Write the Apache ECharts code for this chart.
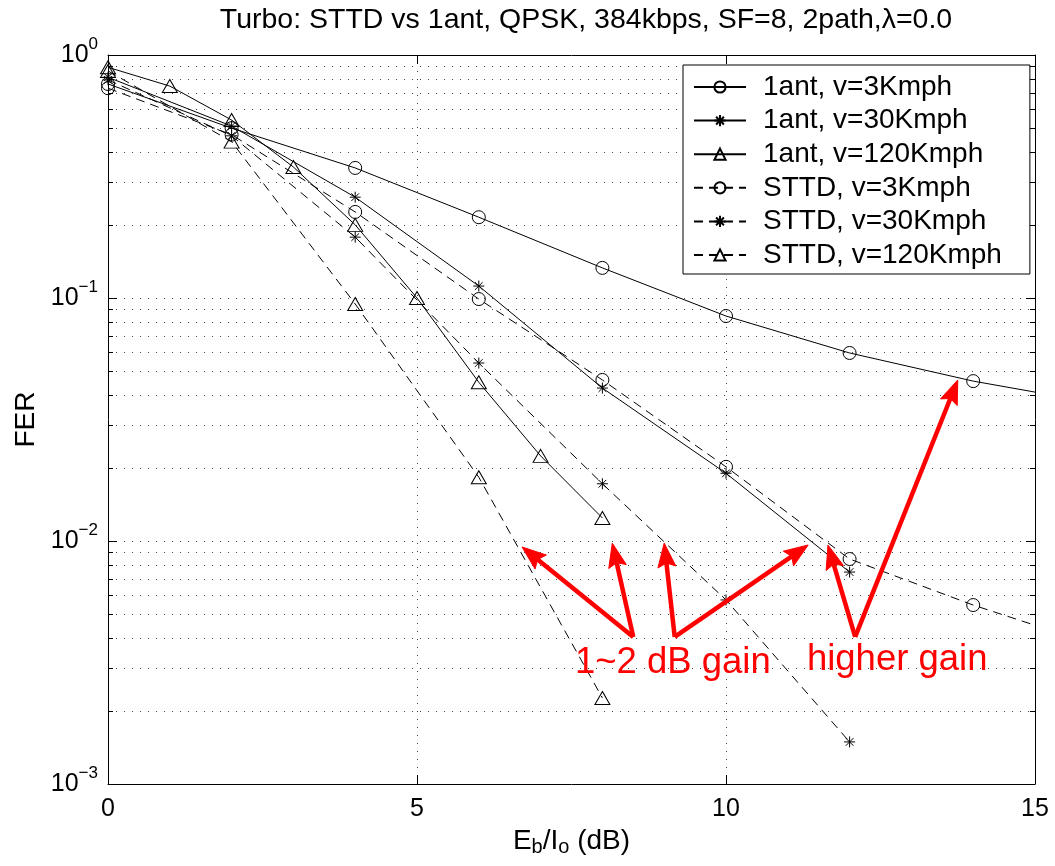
<!DOCTYPE html>
<html><head><meta charset="utf-8">
<script src="https://cdn.jsdelivr.net/npm/echarts@6/dist/echarts.min.js"></script>
<style>html,body{margin:0;padding:0;background:#fff}#c{width:1055px;height:866px}</style>
</head><body><div id="c"></div>
<script>
const FONT = "'Liberation Sans', Arial, Helvetica, sans-serif";

// ---- axes ----
const xMin = 0, xMax = 15, xInterval = 5;
const yMin = 0.001, yMax = 1;
const minorTicks = [0.002,0.003,0.004,0.005,0.006,0.007,0.008,0.009,
                    0.02,0.03,0.04,0.05,0.06,0.07,0.08,0.09,
                    0.2,0.3,0.4,0.5,0.6,0.7,0.8,0.9];

// ---- data (Eb/Io in dB, FER) ----
const names = ['1ant, v=3Kmph','1ant, v=30Kmph','1ant, v=120Kmph','STTD, v=3Kmph','STTD, v=30Kmph','STTD, v=120Kmph'];
const x_1ant_3   = [0,2,4,6,8,10,12,14,15];
const fer_1ant_3 = [0.76,0.50,0.343,0.215,0.133,0.0843,0.0594,0.0455,0.041];
const x_1ant_30   = [0,2,4,6,8,10,12];
const fer_1ant_30 = [0.81,0.51,0.26,0.112,0.0426,0.019,0.00745];
const x_1ant_120   = [0,1,2,3,4,5,6,7,8];
const fer_1ant_120 = [0.89,0.745,0.54,0.346,0.2,0.1,0.045,0.0224,0.01244];
const x_sttd_3   = [0,2,4,6,8,10,12,14,15];
const fer_sttd_3 = [0.73,0.47,0.226,0.099,0.046,0.0202,0.00843,0.00545,0.0045];
const x_sttd_30   = [0,2,4,6,8,10,12];
const fer_sttd_30 = [0.79,0.465,0.178,0.054,0.0172,0.00572,0.00149];
const x_sttd_120   = [0,2,4,6,8];
const fer_sttd_120 = [0.86,0.44,0.0945,0.0183,0.00226];

// ---- annotations (data coords) ----
const arrowTails = [[8.5,0.00403],[8.5,0.00403],[9.17,0.00403],[9.17,0.00403],[12.09,0.00403],[12.09,0.00403]];
const arrowHeads = [[6.7,0.00945],[8.16,0.0098],[9.0,0.0098],[11.33,0.00963],[11.65,0.00963],[13.75,0.046]];
const noteTexts = ['1~2 dB gain','higher gain'];
const notePos = [[9.14,0.00315],[12.77,0.00324]];

const STAR = 'path://M10 0L10 20M0 10L20 10M3 3L17 17M3 17L17 3';

function pts(xs, ys){
  return xs.map((x,i)=> x === xMax ? {value:[x,ys[i]], symbol:'none'} : [x,ys[i]]);
}
function mk(name, xs, ys, symbol, size, dashed){
  return {
    name, type:'line', data: pts(xs,ys), symbol, symbolSize: size, z: 5,
    color:'#000',
    lineStyle:{color:'#000', width:1, type: dashed ? [9,6] : 'solid'},
    itemStyle:{color:'rgba(0,0,0,0)', borderColor:'#000', borderWidth:1},
    emphasis:{disabled:true}, silent:true
  };
}

const chart = echarts.init(document.getElementById('c'), null, {renderer:'canvas'});
const dotted = {color:'#444', width:1, type:[1,7]};
const supFmt = v => {
  const e = Math.round(Math.log10(v));
  return '{b|10}{s|' + (e < 0 ? '\u2212' + (-e) : e) + '}';
};
const richY = {
  b:{fontSize:25, fontFamily:FONT, color:'#000'},
  s:{fontSize:17, fontFamily:FONT, color:'#000', padding:[0,0,22,0]}
};

chart.setOption({
  animation:false,
  backgroundColor:'#fff',
  textStyle:{fontFamily:FONT},
  grid:{left:108, right:20, top:55, bottom:82, containLabel:false},
  xAxis:[{
    type:'value', min:xMin, max:xMax, interval:xInterval, position:'bottom',
    axisLine:{show:true, onZero:false, lineStyle:{color:'#000', width:1}},
    axisTick:{show:true, inside:true, length:9, lineStyle:{color:'#000'}},
    axisLabel:{fontSize:25, color:'#000', margin:13, fontFamily:FONT},
    splitLine:{show:true, lineStyle:dotted},
    name:'{n|E}{sub|b}{n|/I}{sub|o}{n| (dB)}', nameLocation:'middle', nameGap:34,
    nameTextStyle:{rich:{
      n:{fontSize:28, fontFamily:FONT, color:'#000'},
      sub:{fontSize:20, fontFamily:FONT, color:'#000', padding:[14,0,0,0]}
    }}
  },{
    type:'value', min:xMin, max:xMax, interval:xInterval, position:'top',
    axisLine:{show:true, onZero:false, lineStyle:{color:'#000', width:1}},
    axisTick:{show:true, inside:true, length:9, lineStyle:{color:'#000'}},
    axisLabel:{show:false}, splitLine:{show:false}
  }],
  yAxis:[{
    type:'log', logBase:10, min:yMin, max:yMax, position:'left',
    axisLine:{show:true, onZero:false, lineStyle:{color:'#000', width:1}},
    axisTick:{show:true, inside:true, length:9, lineStyle:{color:'#000'}},
    axisLabel:{formatter:supFmt, rich:richY, margin:10},
    splitLine:{show:true, lineStyle:dotted},
    name:'FER', nameLocation:'middle', nameGap:64,
    nameTextStyle:{fontSize:28, color:'#000', fontFamily:FONT}
  },{
    type:'log', logBase:10, min:yMin, max:yMax, position:'right',
    axisLine:{show:true, onZero:false, lineStyle:{color:'#000', width:1}},
    axisTick:{show:true, inside:true, length:9, lineStyle:{color:'#000'}},
    axisLabel:{show:false}, splitLine:{show:false}
  }],
  legend:{
    data:names, orient:'vertical', left:683, top:65,
    padding:[8,28,5,10], itemGap:5.6, itemWidth:52, itemHeight:14,
    backgroundColor:'#fff', borderColor:'#000', borderWidth:1, borderRadius:0,
    textStyle:{fontSize:28, color:'#000', fontFamily:FONT, lineHeight:28, padding:[0,0,0,12]},
    selectedMode:false
  },
  series:[
    {
      type:'custom', name:'minorGrid', z:1, silent:true,
      data: minorTicks.map(v=>[xMin, v]),
      encode:{x:0, y:1},
      renderItem:(params, api)=>{
        const v = api.value(1);
        const a = api.coord([xMin, v]), b = api.coord([xMax, v]);
        const y = Math.round(a[1]) + 0.5;
        return {type:'group', children:[
          {type:'line', shape:{x1:a[0], y1:y, x2:b[0], y2:y}, style:{stroke:'#444', lineWidth:1, lineDash:[1,7]}},
          {type:'line', shape:{x1:a[0], y1:y, x2:a[0]+5, y2:y}, style:{stroke:'#000', lineWidth:1}},
          {type:'line', shape:{x1:b[0]-5, y1:y, x2:b[0], y2:y}, style:{stroke:'#000', lineWidth:1}}
        ]};
      }
    },
    mk(names[0], x_1ant_3, fer_1ant_3, 'circle', 13, false),
    mk(names[1], x_1ant_30, fer_1ant_30, STAR, 11, false),
    mk(names[2], x_1ant_120, fer_1ant_120, 'triangle', [15,13], false),
    mk(names[3], x_sttd_3, fer_sttd_3, 'circle', 13, true),
    mk(names[4], x_sttd_30, fer_sttd_30, STAR, 11, true),
    mk(names[5], x_sttd_120, fer_sttd_120, 'triangle', [15,13], true)
  ]
});

const RED = '#ff0000';
const gfx = [{
  type:'text', x:586, y:20,
  style:{text:'Turbo: STTD vs 1ant, QPSK, 384kbps, SF=8, 2path,\u03bb=0.0', font:'28.5px '+FONT, fill:'#000', textAlign:'center', textVerticalAlign:'middle'}
}];
const HEAD_LEN = 24, HEAD_HALF = 9, NOTCH = 4;
arrowTails.forEach((t,i)=>{
  const p0 = chart.convertToPixel({xAxisIndex:0, yAxisIndex:0}, t);
  const p1 = chart.convertToPixel({xAxisIndex:0, yAxisIndex:0}, arrowHeads[i]);
  const dx = p1[0]-p0[0], dy = p1[1]-p0[1], L = Math.hypot(dx,dy);
  const ux = dx/L, uy = dy/L, nx = -uy, ny = ux;
  const bx = p1[0]-ux*HEAD_LEN, by = p1[1]-uy*HEAD_LEN;
  const mx = p1[0]-ux*(HEAD_LEN-NOTCH), my = p1[1]-uy*(HEAD_LEN-NOTCH);
  gfx.push({type:'line', z:20, shape:{x1:p0[0], y1:p0[1], x2:mx, y2:my},
    style:{stroke:RED, lineWidth:4.5, lineCap:'butt'}});
  gfx.push({type:'polygon', z:20, shape:{points:[
      [p1[0],p1[1]], [bx+nx*HEAD_HALF, by+ny*HEAD_HALF], [mx,my], [bx-nx*HEAD_HALF, by-ny*HEAD_HALF]]},
    style:{fill:RED, stroke:RED, lineWidth:1}});
});
noteTexts.forEach((t,i)=>{
  const p = chart.convertToPixel({xAxisIndex:0, yAxisIndex:0}, notePos[i]);
  gfx.push({type:'text', x:p[0], y:p[1], z:20,
    style:{text:t, font:'36.5px '+FONT, fill:RED, textAlign:'center', textVerticalAlign:'middle'}});
});
chart.setOption({graphic:gfx});
</script>
</body></html>
